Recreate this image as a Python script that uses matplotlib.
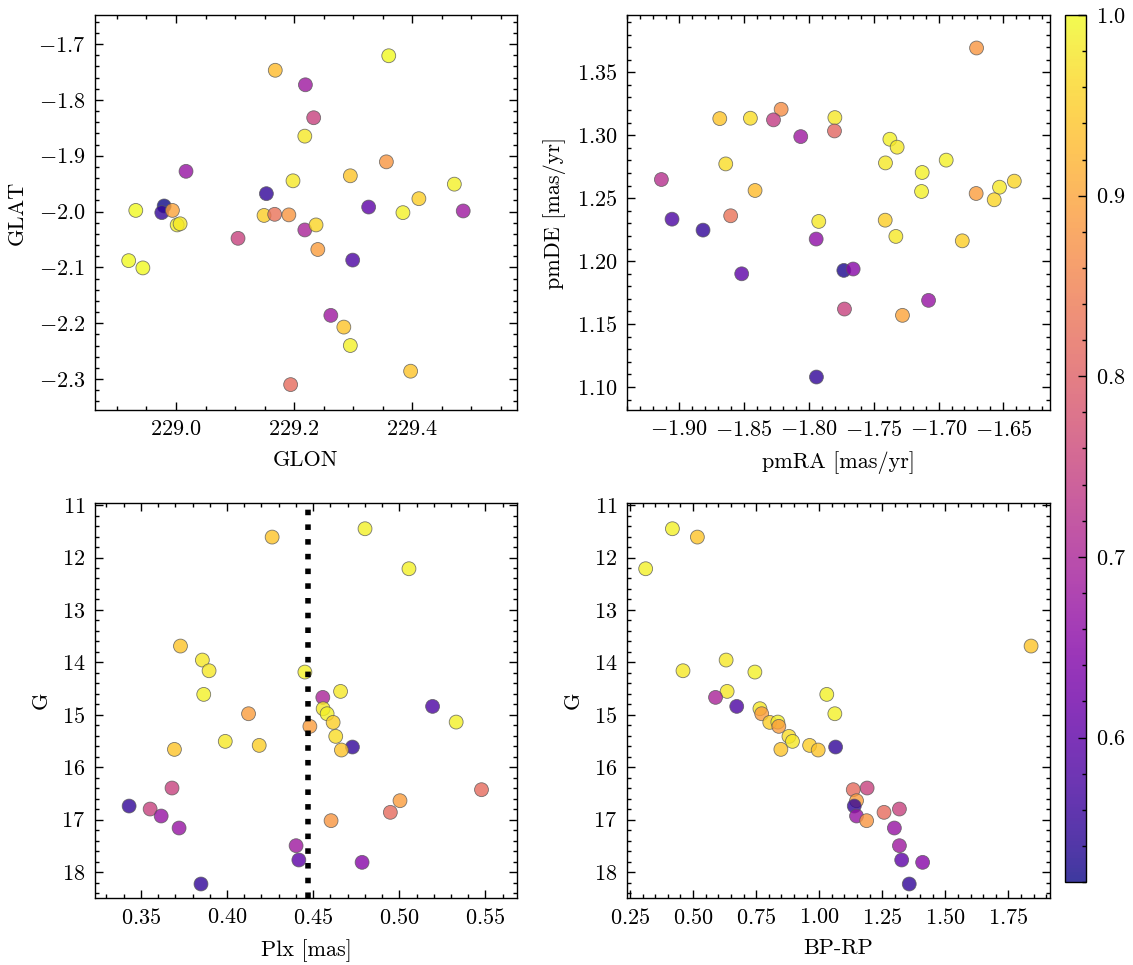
import matplotlib
matplotlib.use("Agg")
from matplotlib import pyplot as plt
from matplotlib.ticker import AutoMinorLocator, MultipleLocator
import numpy as np

# Sky positions (panel 1)
glon = [229.360, 229.168, 229.219, 229.233, 229.218, 229.356, 229.017, 229.198, 229.295,
        229.471, 229.153, 229.411, 229.326, 228.932, 228.980, 228.976, 228.994, 229.384,
        229.486, 229.149, 229.167, 229.191, 229.002, 229.007, 229.218, 229.237, 229.105,
        229.240, 228.920, 228.944, 229.299, 229.262, 229.284, 229.295, 229.397, 229.194]
glat = [-1.721, -1.747, -1.773, -1.832, -1.865, -1.911, -1.928, -1.945, -1.936,
        -1.951, -1.968, -1.977, -1.992, -1.998, -1.990, -2.002, -1.998, -2.002,
        -1.999, -2.007, -2.005, -2.006, -2.024, -2.022, -2.033, -2.024, -2.048,
        -2.068, -2.088, -2.101, -2.087, -2.186, -2.207, -2.240, -2.286, -2.310]
prob_sky = [1.00, 0.93, 0.68, 0.75, 0.98, 0.88, 0.67, 0.98, 0.94,
            0.99, 0.55, 0.95, 0.60, 1.00, 0.52, 0.55, 0.90, 0.99,
            0.68, 0.95, 0.83, 0.88, 0.99, 0.98, 0.70, 0.96, 0.75,
            0.89, 1.00, 1.00, 0.58, 0.68, 0.94, 0.99, 0.94, 0.82]

# Proper motions (panel 2)
pmra = [-1.6707, -1.8213, -1.8686, -1.8450, -1.8272, -1.7799, -1.7802, -1.8062, -1.7375,
        -1.7319, -1.6941, -1.8640, -1.7409, -1.7126, -1.9136, -1.6416, -1.6530, -1.8414,
        -1.7131, -1.6710, -1.6571, -1.9054, -1.8602, -1.7923, -1.7411, -1.8815, -1.7943,
        -1.7329, -1.6817, -1.8517, -1.7730, -1.7658, -1.7077, -1.7725, -1.7278, -1.7941]
pmde = [1.3693, 1.3206, 1.3132, 1.3135, 1.3122, 1.3140, 1.3034, 1.2989, 1.2968,
        1.2905, 1.2802, 1.2772, 1.2780, 1.2704, 1.2648, 1.2635, 1.2587, 1.2561,
        1.2553, 1.2537, 1.2487, 1.2333, 1.2360, 1.2315, 1.2325, 1.2246, 1.2175,
        1.2196, 1.2161, 1.1899, 1.1926, 1.1937, 1.1688, 1.1619, 1.1569, 1.1079]
prob_pm = [0.88, 0.87, 0.94, 0.97, 0.74, 0.98, 0.81, 0.68, 0.99,
           0.98, 0.99, 0.97, 0.98, 0.99, 0.72, 0.96, 0.98, 0.93,
           0.99, 0.89, 0.96, 0.58, 0.83, 0.98, 0.95, 0.55, 0.66,
           0.98, 0.95, 0.60, 0.53, 0.65, 0.67, 0.75, 0.90, 0.55]

# Photometry / parallax (panels 3 and 4)
gmag = [11.451, 11.610, 12.214, 13.689, 13.956, 14.160, 14.185, 14.554, 14.611,
        14.668, 14.840, 14.884, 14.980, 14.980, 15.145, 15.139, 15.221, 15.412,
        15.507, 15.584, 15.615, 15.672, 15.660, 16.397, 16.429, 16.639, 16.741,
        16.798, 16.931, 16.861, 17.020, 17.160, 17.497, 17.770, 17.815, 18.228]
plx = [0.4801, 0.4262, 0.5056, 0.3730, 0.3857, 0.3896, 0.4452, 0.4659, 0.3865,
       0.4556, 0.5193, 0.4558, 0.4581, 0.4125, 0.4616, 0.5330, 0.4481, 0.4631,
       0.3990, 0.4187, 0.4728, 0.4664, 0.3695, 0.3681, 0.5477, 0.5004, 0.3432,
       0.3554, 0.3618, 0.4948, 0.4604, 0.3722, 0.4401, 0.4417, 0.4784, 0.3849]
bp_rp = [0.418, 0.517, 0.312, 1.840, 0.631, 0.460, 0.745, 0.635, 1.030,
         0.589, 0.673, 0.765, 1.062, 0.772, 0.804, 0.836, 0.840, 0.880,
         0.894, 0.962, 1.065, 0.996, 0.848, 1.190, 1.135, 1.148, 1.139,
         1.318, 1.148, 1.257, 1.188, 1.298, 1.318, 1.327, 1.410, 1.357]
prob_phot = [0.99, 0.94, 0.99, 0.94, 0.98, 0.98, 0.99, 0.98, 0.99,
             0.70, 0.58, 0.98, 0.99, 0.89, 0.95, 0.99, 0.89, 0.97,
             0.98, 0.95, 0.55, 0.94, 0.94, 0.75, 0.82, 0.89, 0.55,
             0.75, 0.67, 0.82, 0.88, 0.67, 0.68, 0.60, 0.65, 0.55]

plx_cut = 0.447
VMIN, VMAX = 0.52, 1.0

plt.rcParams.update({
    "font.family": "serif",
    "font.serif": ["cmr10"],
    "mathtext.fontset": "cm",
    "axes.formatter.use_mathtext": True,
    "font.size": 8,
    "axes.linewidth": 0.5,
    "xtick.direction": "in",
    "ytick.direction": "in",
    "xtick.top": True,
    "ytick.right": True,
    "xtick.major.size": 3,
    "ytick.major.size": 3,
    "xtick.minor.size": 1.5,
    "ytick.minor.size": 1.5,
    "xtick.major.width": 0.5,
    "ytick.major.width": 0.5,
    "xtick.minor.width": 0.5,
    "ytick.minor.width": 0.5,
    "xtick.minor.visible": True,
    "ytick.minor.visible": True,
})

fig = plt.figure(figsize=(1133 / 200, 965 / 200), dpi=200)
W, H = 1133, 965


def add_ax(x0, y0, x1, y1):
    return fig.add_axes([x0 / W, 1 - y1 / H, (x1 - x0) / W, (y1 - y0) / H])


ax1 = add_ax(95, 15, 517, 410)
ax2 = add_ax(627, 15, 1050, 410)
ax3 = add_ax(95, 503, 517, 898)
ax4 = add_ax(627, 503, 1050, 898)
cax = add_ax(1065, 15, 1086, 882)

kw = dict(cmap="plasma", vmin=VMIN, vmax=VMAX, s=25, alpha=0.8,
          edgecolors="0.35", linewidths=0.3)

sc = ax1.scatter(glon, glat, c=prob_sky, **kw)
ax1.set_xlim(228.863, 229.577)
ax1.set_ylim(-2.3555, -1.648)
ax1.xaxis.set_major_locator(MultipleLocator(0.2))
ax1.set_xlabel("GLON")
ax1.set_ylabel("GLAT")

ax2.scatter(pmra, pmde, c=prob_pm, **kw)
ax2.set_xlim(-1.9401, -1.6141)
ax2.set_ylim(1.0817, 1.3955)
ax2.xaxis.set_major_locator(MultipleLocator(0.05))
ax2.yaxis.set_major_locator(MultipleLocator(0.05))
ax2.set_xlabel("pmRA [mas/yr]")
ax2.set_ylabel("pmDE [mas/yr]")

ax3.scatter(plx, gmag, c=prob_phot, **kw)
ax3.axvline(plx_cut, color="k", ls=":", lw=2)
ax3.set_xlim(0.3234, 0.5683)
ax3.set_ylim(18.495, 10.96)
ax3.xaxis.set_major_locator(MultipleLocator(0.05))
ax3.yaxis.set_major_locator(MultipleLocator(1))
ax3.set_xlabel("Plx [mas]")
ax3.set_ylabel("G")

ax4.scatter(bp_rp, gmag, c=prob_phot, **kw)
ax4.set_xlim(0.238, 1.915)
ax4.set_ylim(18.495, 10.96)
ax4.xaxis.set_major_locator(MultipleLocator(0.25))
ax4.yaxis.set_major_locator(MultipleLocator(1))
ax4.set_xlabel("BP-RP")
ax4.set_ylabel("G")

for ax in (ax1, ax2, ax3, ax4):
    ax.xaxis.set_minor_locator(AutoMinorLocator())
    ax.yaxis.set_minor_locator(AutoMinorLocator())

cb = fig.colorbar(sc, cax=cax)
cb.solids.set_alpha(0.8)
cb.set_ticks([0.6, 0.7, 0.8, 0.9, 1.0])
cb.ax.yaxis.set_minor_locator(MultipleLocator(0.02))
cb.ax.tick_params(which="both", direction="in")
cb.outline.set_linewidth(0.5)

fig.savefig("out.png", dpi=200)
